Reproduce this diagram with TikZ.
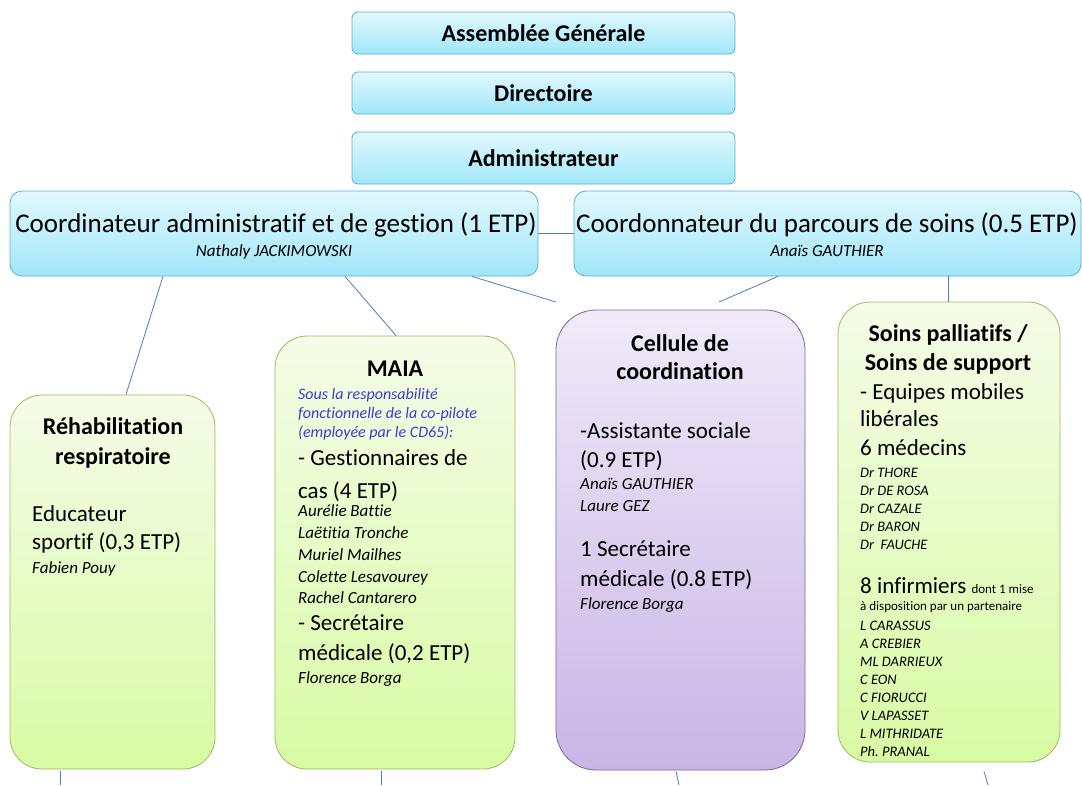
\documentclass[tikz,border=0pt]{standalone}
\usepackage{fontspec}
\setmainfont{Carlito}[Ligatures=NoCommon]
\frenchspacing
\usetikzlibrary{positioning}

\definecolor{skytop}{RGB}{226,248,254}
\definecolor{skybot}{RGB}{160,231,250}
\definecolor{skyline}{RGB}{84,176,206}
\definecolor{leaftop}{RGB}{245,252,232}
\definecolor{leafbot}{RGB}{216,251,164}
\definecolor{leafline}{RGB}{155,187,89}
\definecolor{liltop}{RGB}{240,234,248}
\definecolor{lilbot}{RGB}{200,182,230}
\definecolor{lilline}{RGB}{128,100,162}
\definecolor{wire}{RGB}{74,126,187}
\definecolor{notecol}{RGB}{60,60,210}

\begin{document}
\begin{tikzpicture}[
    x=1pt, y=-1pt,
    topbox/.style={rectangle, rounded corners=6pt, draw=skyline, line width=0.8pt, top color=skytop, bottom color=skybot, minimum width=383pt, inner sep=0pt, font=\fontsize{24}{28}\selectfont\bfseries},
    coordbox/.style={topbox, rounded corners=12pt, minimum height=85pt},
    leafbox/.style={rectangle, rounded corners=32pt, draw=leafline, line width=0.8pt, top color=leaftop, bottom color=leafbot, inner sep=0pt},
    lilbox/.style={leafbox, rounded corners=40pt, draw=lilline, top color=liltop, bottom color=lilbot},
    head/.style={inner sep=0pt, anchor=mid, font=\fontsize{24}{28}\selectfont\bfseries},
    title/.style={inner sep=0pt, anchor=mid, font=\fontsize{27}{32}\selectfont},
    body/.style={inner sep=0pt, anchor=mid west, font=\fontsize{23}{28}\selectfont},
    who/.style={inner sep=0pt, anchor=mid west, font=\fontsize{17}{21}\selectfont\itshape},
    whosmall/.style={who, font=\fontsize{14.5}{18}\selectfont\itshape},
    note/.style={who, text=notecol, font=\fontsize{16}{19}\selectfont\itshape},
    aside/.style={inner sep=0pt, anchor=mid west, font=\fontsize{13}{16}\selectfont},
    link/.style={draw=wire, line width=0.8pt}
]
\useasboundingbox (0,0) rectangle (1082,785);

% governance
\node[topbox, minimum height=42pt] (ag) at (543.5,33) {Assemblée Générale};
\node[topbox, minimum height=42pt] (dir) at (543.5,93) {Directoire};
\node[topbox, minimum height=52pt] (adm) at (543.5,158) {Administrateur};

% coordinators
\node[coordbox, minimum width=528pt] (coordA) at (274,233.5) {};
\node[coordbox, minimum width=507pt] (coordP) at (827.5,233.5) {};
\node[title] (coordA-t) at (276,230) {Coordinateur administratif et de gestion (1 ETP)};
\node[who, anchor=mid] (coordA-n) at (274,254) {Nathaly JACKIMOWSKI};
\node[title] (coordP-t) at (827,230) {Coordonnateur du parcours de soins (0.5 ETP)};
\node[who, anchor=mid] (coordP-n) at (827,254) {Anaïs GAUTHIER};

% teams
\node[leafbox, minimum width=205pt, minimum height=374pt] (rehab) at (112.5,582) {};
\node[leafbox, minimum width=240pt, minimum height=433pt] (maia) at (395,552.5) {};
\node[lilbox, minimum width=249pt, minimum height=460pt] (cellule) at (680.5,540) {};
\node[leafbox, minimum width=222pt, minimum height=460pt] (soins) at (949,532) {};

% rehabilitation
\node[head] (rehab-h1) at (113,432) {Réhabilitation};
\node[head] (rehab-h2) at (113,462) {respiratoire};
\node[body] (rehab-b1) at (32,519) {Educateur};
\node[body] (rehab-b2) at (32,547) {sportif (0,3 ETP)};
\node[who] (rehab-n1) at (32,571) {Fabien Pouy};

% maia
\node[head] (maia-h) at (395,374) {MAIA};
\node[note] (maia-s1) at (298,397) {Sous la responsabilité};
\node[note] (maia-s2) at (298,416) {fonctionnelle de la co-pilote};
\node[note] (maia-s3) at (298,435) {(employée par le CD65):};
\node[body] (maia-b1) at (298,463) {- Gestionnaires de};
\node[body] (maia-b2) at (298,496) {cas (4 ETP)};
\foreach \name [count=\i] in {Aurélie Battie, Laëtitia Tronche, Muriel Mailhes, Colette Lesavourey, Rachel Cantarero}
  \node[who] (maia-n\i) at (298,492.5+21.8*\i) {\name};
\node[body] (maia-b3) at (298,628) {- Secrétaire};
\node[body] (maia-b4) at (298,658) {médicale (0,2 ETP)};
\node[who] (maia-n6) at (298,681) {Florence Borga};

% cellule
\node[head] (cel-h1) at (680,349) {Cellule de};
\node[head] (cel-h2) at (680,377) {coordination};
\node[body] (cel-b1) at (580,436) {-Assistante sociale};
\node[body] (cel-b2) at (580,465) {(0.9 ETP)};
\node[who] (cel-n1) at (580,487) {Anaïs GAUTHIER};
\node[who] (cel-n2) at (580,509) {Laure GEZ};
\node[body] (cel-b3) at (580,554) {1 Secrétaire};
\node[body] (cel-b4) at (580,584) {médicale (0.8 ETP)};
\node[who] (cel-n3) at (580,607) {Florence Borga};

% soins
\node[head] (soins-h1) at (948,339) {Soins palliatifs /};
\node[head] (soins-h2) at (948,368) {Soins de support};
\node[body] (soins-b1) at (860,397) {- Equipes mobiles};
\node[body] (soins-b2) at (860,424) {libérales};
\node[body] (soins-b3) at (860,453) {6 médecins};
\foreach \name [count=\i] in {Dr THORE, Dr DE ROSA, Dr CAZALE, Dr BARON, Dr\ \ FAUCHE}
  \node[whosmall] (soins-d\i) at (860,457+18*\i) {\name};
\node[body] (soins-b4) at (860,591) {8 infirmiers {\fontsize{13}{16}\selectfont dont 1 mise}};
\node[aside] (soins-a) at (860,608) {à disposition par un partenaire};
\foreach \name [count=\i] in {L CARASSUS, A CREBIER, ML DARRIEUX, C EON, C FIORUCCI, V LAPASSET, L MITHRIDATE, Ph. PRANAL}
  \node[whosmall] (soins-i\i) at (860,610+18*\i) {\name};

% links
\draw[link, line width=1.3pt] (coordA.east) -- (coordP.west);
\draw[link] ([xshift=-111pt]coordA.south) -- ([xshift=13.5pt]rehab.north);
\draw[link] ([xshift=71pt]coordA.south) -- ([xshift=1pt]maia.north);
\coordinate (toCelA) at (556,302);
\coordinate (toCelP) at (719,302);
\draw[link] ([xshift=198pt]coordA.south) -- (toCelA);
\draw[link] ([xshift=-49.5pt]coordP.south) -- (toCelP);
\draw[link] ([xshift=120.5pt]coordP.south) -- ([xshift=-1pt]soins.north);
\coordinate (offRehab) at (60,785);
\coordinate (offMaia) at (381,785);
\coordinate (offCel) at (679,785);
\coordinate (offSoins) at (988,785);
\draw[link] ([xshift=-52.5pt,yshift=-2pt]rehab.south) -- (offRehab);
\draw[link] ([xshift=-14pt,yshift=-2pt]maia.south) -- (offMaia);
\draw[link] ([xshift=-4.5pt,yshift=-1pt]cellule.south) -- (offCel);
\draw[link] ([xshift=35pt,yshift=-9pt]soins.south) -- (offSoins);
\end{tikzpicture}
\end{document}
